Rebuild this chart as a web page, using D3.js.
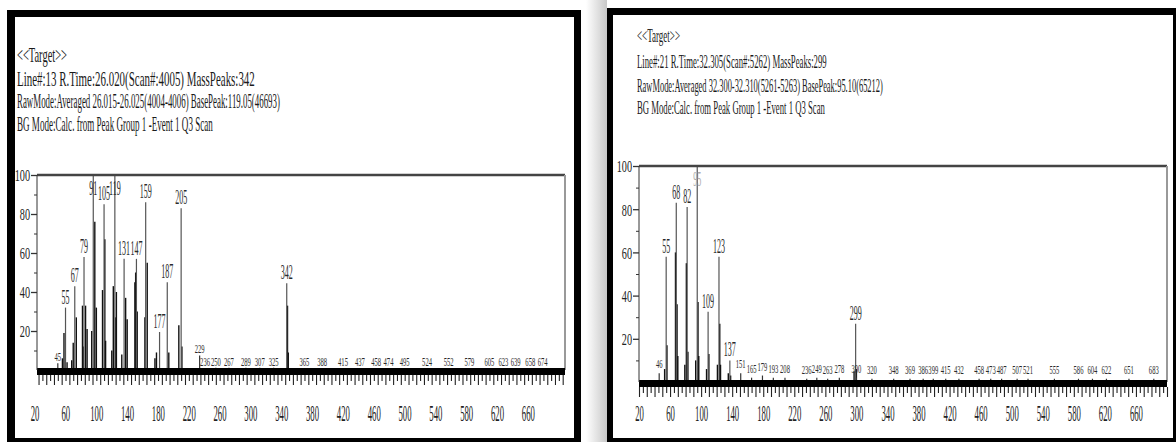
<!DOCTYPE html>
<html><head><meta charset="utf-8">
<script src="https://cdn.jsdelivr.net/npm/d3@7"></script>
<style>body{margin:0;background:#fff;overflow:hidden}svg{display:block}</style>
</head><body>
<script>
// ---------- DATA ----------
const xTickLabels = [20,60,100,140,180,220,260,300,340,380,420,460,500,540,580,620,660];
const yTickLabels = [20,40,60,80,100];
const yMinorTicks = [10,30,50,70,90];

// Left spectrum (Line#13)
const leftHeader = ["<<Target>>",
  "Line#:13 R.Time:26.020(Scan#:4005) MassPeaks:342",
  "RawMode:Averaged 26.015-26.025(4004-4006) BasePeak:119.05(46693)",
  "BG Mode:Calc. from Peak Group 1 -Event 1 Q3 Scan"];
const leftPeakMz  = [55,67,79,91,105,119,131,147,159,177,187,205,342];
const leftPeakInt = [32,43,58,100,85,100,57,57,86,19.5,45,83,44.5];
const leftSmallMz  = [45,229,236,250,267,289,307,325,365,388,415,437,458,474,495,524,552,579,605,623,639,658,674];
const leftSmallInt = [3.5,7.5,0.8,1.2,1.2,1.2,1.2,1.2,1,1,1,1,1,1,1,1,1,1,1,1,1,1,1];
const leftMinorMz  = [51,53,57,63,65,69,77,78,81,83,89,93,95,103,106,107,115,117,120,121,128,133,135,145,146,148,158,161,171,173,189,202,206,343,344];
const leftMinorInt = [6,19,4,5,14,27,33,12,33,21,20,76,32,41,67,15,10,43,27,40,8,37,26,45,50,30,27,55,6,9,9,23,12,33,9];

// Right spectrum (Line#21)
const rightHeader = ["<<Target>>",
  "Line#:21 R.Time:32.305(Scan#:5262) MassPeaks:299",
  "RawMode:Averaged 32.300-32.310(5261-5263) BasePeak:95.10(65212)",
  "BG Mode:Calc. from Peak Group 1 -Event 1 Q3 Scan"];
const rightPeakMz  = [55,68,82,95,109,123,137,299];
const rightPeakInt = [58,83,81,100,32.5,58,10,27];
const rightSmallMz  = [46,151,165,179,193,208,236,249,263,278,300,320,348,369,386,399,415,432,458,473,487,507,521,555,586,604,622,651,683];
const rightSmallInt = [4,4,2,3,2,2,1.5,2,1.5,2,2,1.5,1.5,1.5,1.5,1.5,1.5,1.5,1.5,1.5,1.5,1.5,1.5,1.5,1.5,1.5,1.5,1.5,1.5];
const rightMinorMz  = [53,56,67,69,70,79,81,83,93,96,97,107,110,121,124,125,135,138,297,300];
const rightMinorInt = [6,17,60,36,12,8,55,14,10,37,12,6,13,8,27,8,4,3,5,6];

// ---------- DRAWING ----------
const FONT = "'Liberation Serif','Times New Roman',serif";
const svg = d3.select("body").append("svg").attr("width",1176).attr("height",442);

const defs = svg.append("defs");
const grad = defs.append("linearGradient").attr("id","shade").attr("x1","0").attr("x2","1");
grad.append("stop").attr("offset","0").attr("stop-color","#fff");
grad.append("stop").attr("offset","1").attr("stop-color","#c8c8c8");
svg.append("rect").attr("x",586).attr("y",0).attr("width",21).attr("height",442).attr("fill","url(#shade)");

function ctext(g, x, y, str, size, sx, anchor, fill){
  return g.append("text")
    .attr("transform", `translate(${x},${y}) scale(${sx},1)`)
    .attr("text-anchor", anchor || "start")
    .attr("fill", fill || "#222")
    .style("font-family", FONT).style("font-size", size+"px")
    .text(str);
}

function panel(cfg){
  const g = svg.append("g");
  g.append("rect").attr("x",cfg.bx0).attr("y",cfg.by0).attr("width",cfg.bx1-cfg.bx0).attr("height",cfg.by1-cfg.by0).attr("fill","#000");
  g.append("rect").attr("x",cfg.ix0).attr("y",cfg.iy0).attr("width",cfg.ix1-cfg.ix0).attr("height",cfg.iy1-cfg.iy0).attr("fill","#fff");

  cfg.header.forEach((t,i)=>{
    const tx = g.append("text").attr("x",0).attr("y",0)
      .attr("fill","#1a1a1a").style("font-family",FONT).style("font-size",cfg.hsize+"px").text(t);
    const w = tx.node().getComputedTextLength() || 1;
    tx.attr("transform",`translate(${cfg.hx},${cfg.hy[i]}) scale(${cfg.hw[i]/w},1)`);
  });

  const x = d3.scaleLinear().domain(cfg.domain).range([cfg.x0,cfg.x1]);
  const y = d3.scaleLinear().domain([0,100]).range([cfg.yBase,cfg.yTop]);

  g.append("g").selectAll("line").data(cfg.minorMz.map((m,i)=>[m,cfg.minorInt[i]])).join("line")
    .attr("x1",d=>x(d[0])).attr("x2",d=>x(d[0])).attr("y1",y(0)).attr("y2",d=>y(d[1]))
    .attr("stroke","#111").attr("stroke-width",1.4);
  g.append("g").selectAll("line").data(cfg.peakMz.map((m,i)=>[m,cfg.peakInt[i]])).join("line")
    .attr("x1",d=>x(d[0])).attr("x2",d=>x(d[0])).attr("y1",y(0)).attr("y2",d=>y(d[1]))
    .attr("stroke","#555").attr("stroke-width",1.2);
  g.append("g").selectAll("line").data(cfg.smallMz.map((m,i)=>[m,cfg.smallInt[i]])).join("line")
    .attr("x1",d=>x(d[0])).attr("x2",d=>x(d[0])).attr("y1",y(0)).attr("y2",d=>y(d[1]))
    .attr("stroke","#333").attr("stroke-width",1.2);

  g.append("line").attr("x1",cfg.x0).attr("x2",cfg.x1).attr("y1",cfg.yTop).attr("y2",cfg.yTop).attr("stroke","#444").attr("stroke-width",2.5);
  g.append("line").attr("x1",cfg.x1).attr("x2",cfg.x1).attr("y1",cfg.yTop).attr("y2",cfg.yBase).attr("stroke","#999").attr("stroke-width",2);

  g.append("rect").attr("x",cfg.x0).attr("y",cfg.yBase-2).attr("width",cfg.x1-cfg.x0).attr("height",cfg.band).attr("fill","#000");

  const tickTop = cfg.yBase-2+cfg.band;
  const ax5 = g.append("g").attr("transform",`translate(0,${tickTop})`)
    .call(d3.axisBottom(x).tickValues(d3.range(20,cfg.domain[1]+0.1,5).filter(v=>v%10!==0)).tickSize(6).tickFormat(""));
  const ax10 = g.append("g").attr("transform",`translate(0,${tickTop})`)
    .call(d3.axisBottom(x).tickValues(d3.range(20,cfg.domain[1]+0.1,10)).tickSize(10).tickFormat(""));
  [ax5,ax10].forEach(a=>{a.select(".domain").remove(); a.selectAll("line").attr("stroke","#222").attr("stroke-width",1.1);});

  const axl = g.append("g").attr("transform",`translate(${cfg.labelDx},${cfg.xLabelY})`)
    .call(d3.axisBottom(x).tickValues(xTickLabels).tickSize(0));
  axl.select(".domain").remove();
  axl.selectAll("text").attr("y",0).attr("dy",0)
    .attr("transform",`scale(${cfg.xsx},1)`).attr("fill","#222")
    .style("font-family",FONT).style("font-size",cfg.xsize+"px");

  g.append("line").attr("x1",cfg.x0).attr("x2",cfg.x0).attr("y1",cfg.yTop).attr("y2",cfg.yBase).attr("stroke","#333").attr("stroke-width",1);
  const ay = g.append("g").attr("transform",`translate(${cfg.x0},0)`)
    .call(d3.axisLeft(y).tickValues(yTickLabels).tickSize(6).tickPadding(1));
  ay.select(".domain").remove();
  ay.selectAll("line").attr("stroke","#333").attr("stroke-width",1.3);
  ay.selectAll("text").attr("dy","0.35em").attr("fill","#222")
    .style("font-family",FONT).style("font-size",cfg.ysize+"px")
    .each(function(){ const t=d3.select(this); const xx=+t.attr("x"); t.attr("x",0).attr("transform",`translate(${xx},0) scale(${cfg.ysx},1)`);});
  const aym = g.append("g").attr("transform",`translate(${cfg.x0},0)`)
    .call(d3.axisLeft(y).tickValues(yMinorTicks).tickSize(3).tickFormat(""));
  aym.select(".domain").remove();
  aym.selectAll("line").attr("stroke","#333");

  cfg.peakMz.forEach((m,i)=>{
    const v = cfg.peakInt[i];
    const yy = v>=99 ? y(100)+20 : y(v)-4;
    ctext(g, x(m), yy, String(m), cfg.lsize, cfg.lsx, "middle", (cfg.faint && cfg.faint.includes(m)) ? "#aaa" : "#2a2a2a");
  });
  cfg.smallMz.forEach((m,i)=>{
    const v = cfg.smallInt[i];
    ctext(g, x(m), y(v)-cfg.smallOff, String(m), cfg.ssize, cfg.ssx, "middle", "#2a2a2a");
  });
}

panel({
  bx0:7, by0:10, bx1:581, by1:442, ix0:15, iy0:17, ix1:574, iy1:438,
  header:leftHeader, hx:17, hy:[62,86,108,131], hw:[50,238,263,196], hsize:20,
  domain:[18,703], x0:37, x1:565, yTop:175, yBase:370, band:7,
  peakMz:leftPeakMz, peakInt:leftPeakInt, smallMz:leftSmallMz, smallInt:leftSmallInt,
  minorMz:leftMinorMz, minorInt:leftMinorInt,
  labelDx:-4, xLabelY:421, xsize:23, xsx:0.38, ysize:16, ysx:0.64,
  lsize:20, lsx:0.4, ssize:12, ssx:0.55, smallOff:2
});
panel({
  bx0:607, by0:8, bx1:1180, by1:442, ix0:613, iy0:15, ix1:1173, iy1:438,
  header:rightHeader, hx:637, hy:[42,68,92,114], hw:[43,190,246,188], hsize:19,
  domain:[20,700], x0:639, x1:1167, yTop:166, yBase:382, band:7,
  peakMz:rightPeakMz, peakInt:rightPeakInt, smallMz:rightSmallMz, smallInt:rightSmallInt,
  minorMz:rightMinorMz, minorInt:rightMinorInt, faint:[95],
  labelDx:0, xLabelY:421, xsize:23, xsx:0.38, ysize:17, ysx:0.6,
  lsize:20, lsx:0.4, ssize:12, ssx:0.55, smallOff:5
});
</script>
</body></html>
